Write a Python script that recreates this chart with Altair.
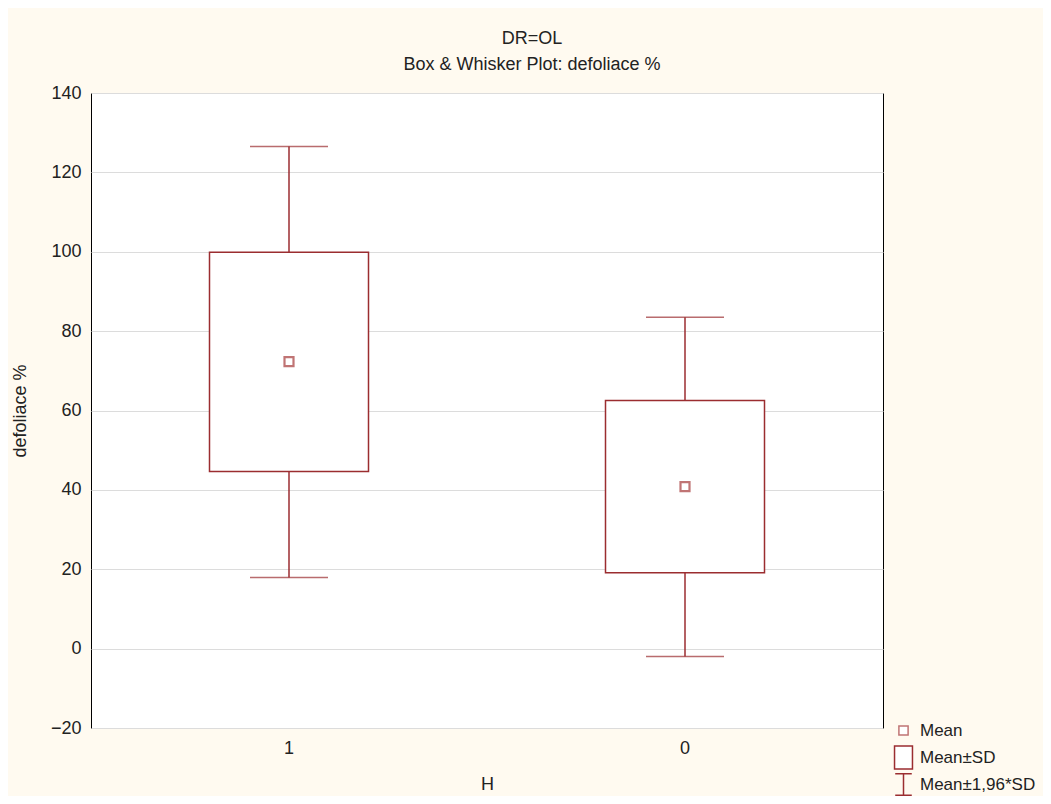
import altair as alt
import pandas as pd

groups = ["1", "0"]
means = [72.3, 40.8]
sd_low = [44.6, 19.1]
sd_high = [99.9, 62.5]
ci_low = [17.9, -2.0]
ci_high = [126.5, 83.5]
legend_items = ["Mean", "Mean±SD", "Mean±1,96*SD"]

df = pd.DataFrame({
    "H": groups, "mean": means, "sd_low": sd_low, "sd_high": sd_high,
    "ci_low": ci_low, "ci_high": ci_high,
    "k1": [legend_items[0]] * 2, "k2": [legend_items[1]] * 2, "k3": [legend_items[2]] * 2,
})

DARK = "#9B2D30"
LIGHT = "#C07474"
FONT = "Liberation Sans"
TXT = "#222222"

x = alt.X("H:N", sort=groups, title="H",
          scale=alt.Scale(domain=groups, paddingInner=0, paddingOuter=0),
          axis=alt.Axis(labelAngle=0, labelPadding=11, titlePadding=18, ticks=False,
                        domain=False, grid=False))
yscale = alt.Scale(domain=[-20, 140], nice=False, zero=False)
yaxis = alt.Axis(values=list(range(-20, 141, 20)), labelPadding=10, titlePadding=21,
                 ticks=False, domain=False, grid=True, gridColor="#DCDCDC", gridWidth=1.2)

SQ = "M-0.4,-0.4L0.4,-0.4L0.4,0.4L-0.4,0.4Z"
RECT = "M-0.78,-1L0.78,-1L0.78,1L-0.78,1Z"
IBEAM = "M-0.72,-0.94L0.72,-0.94M0,-0.94L0,0.94M-0.72,0.94L0.72,0.94"


def leg(sym, ly):
    return alt.Legend(title=None, orient="none", legendX=800, legendY=ly,
                      labelFont=FONT, labelFontSize=17, labelColor=TXT,
                      labelOffset=4, padding=0, labelLimit=300,
                      symbolType=sym, symbolSize=529, symbolFillColor="white",
                      symbolStrokeWidth=1.5)


base = alt.Chart(df)

whisk = base.mark_rule(strokeWidth=1.5).encode(
    x=x, y=alt.Y("ci_low:Q", scale=yscale, axis=yaxis, title="defoliace %"), y2="ci_high:Q",
    stroke=alt.Stroke("k3:N", scale=alt.Scale(domain=[legend_items[2]], range=[DARK]),
                      legend=leg(IBEAM, 679)))
caps_hi = base.mark_tick(color=DARK, size=78, thickness=1.5, orient="horizontal").encode(
    x=x, y=alt.Y("ci_high:Q", scale=yscale))
caps_lo = base.mark_tick(color=DARK, size=78, thickness=1.5, orient="horizontal").encode(
    x=x, y=alt.Y("ci_low:Q", scale=yscale))
box = base.mark_bar(size=159, fill="white", strokeWidth=1.5).encode(
    x=x, y=alt.Y("sd_low:Q", scale=yscale), y2="sd_high:Q",
    stroke=alt.Stroke("k2:N", scale=alt.Scale(domain=[legend_items[1]], range=[DARK]),
                      legend=leg(RECT, 652)))
mean_pt = base.mark_point(filled=False, fill="white", strokeWidth=2.2, size=81, opacity=1,
                          shape="square").encode(
    x=x, y=alt.Y("mean:Q", scale=yscale),
    stroke=alt.Stroke("k1:N", scale=alt.Scale(domain=[legend_items[0]], range=[LIGHT]),
                      legend=leg(SQ, 625)),
)

chart = alt.layer(whisk, caps_hi, caps_lo, box, mean_pt).resolve_scale(
    stroke="independent"
).resolve_legend(
    stroke="independent"
).properties(
    width=792, height=635,
    autosize=alt.AutoSizeParams(type="none"),
    padding={"left": 83, "top": 85, "right": 160, "bottom": 68},
    background="#FFFAF0",
    title=alt.TitleParams(text="DR=OL", subtitle="Box & Whisker Plot: defoliace %",
                          font=FONT, fontSize=18, fontWeight="normal", color=TXT,
                          subtitleFont=FONT, subtitleFontSize=18, subtitleColor=TXT,
                          subtitlePadding=8, offset=10, anchor="middle", dx=45),
).configure_view(
    stroke="black", strokeWidth=1, fill="white"
).configure_axis(
    labelFont=FONT, labelFontSize=18, labelColor=TXT,
    titleFont=FONT, titleFontSize=18, titleColor=TXT, titleFontWeight="normal",
)

chart.save("out.html", embed_options={"renderer": "svg", "actions": False})
